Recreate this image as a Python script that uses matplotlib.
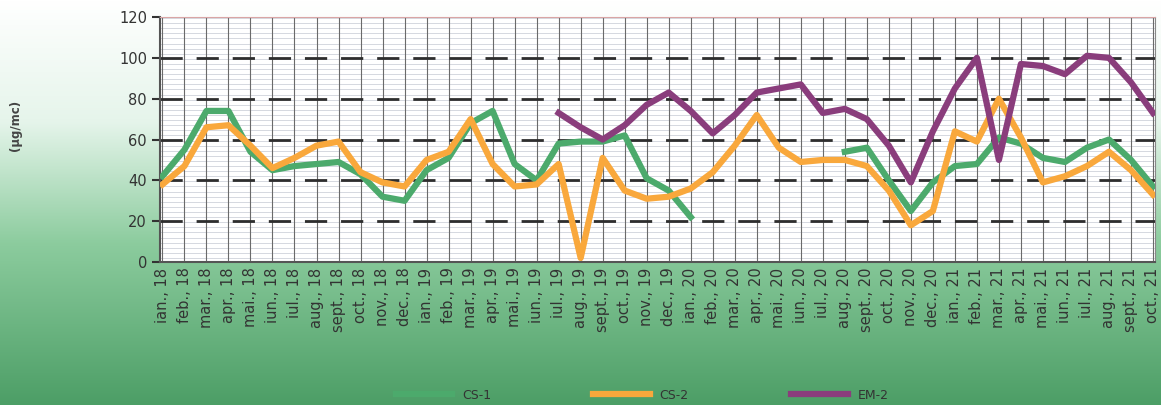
import numpy as np
import matplotlib
matplotlib.use('Agg')
import matplotlib.pyplot as plt
from matplotlib.colors import LinearSegmentedColormap

nan = np.nan

months = ['ian.', 'feb.', 'mar.', 'apr.', 'mai.', 'iun.', 'iul.', 'aug.', 'sept.', 'oct.', 'nov.', 'dec.']
years = ['18', '19', '20', '21']
labels = [m + ', ' + y for y in years for m in months][:46]

cs1 = [42, 55, 74, 74, 54, 45, 47, 48, 49, 43, 32, 30,
       45, 51, 68, 74, 48, 40, 58, 59, 59, 62, 41, 35,
       22, nan, nan, nan, nan, nan, nan, 54, 56, 40, 25, 39,
       47, 48, 61, 58, 51, 49, 56, 60, 50, 37]

cs2 = [38, 47, 66, 67, 57, 46, 51, 57, 59, 44, 39, 37,
       50, 54, 70, 48, 37, 38, 48, 2, 51, 35, 31, 32,
       36, 44, 57, 72, 56, 49, 50, 50, 47, 35, 18, 25,
       64, 59, 80, 61, 39, 42, 47, 54, 45, 33]

em2 = [nan] * 18 + [73, 66, 60, 67, 77, 83,
       74, 63, 72, 83, 85, 87, 73, 75, 70, 57, 39, 64,
       85, 100, 50, 97, 96, 92, 101, 100, 88, 73]

x = np.arange(len(labels))

fig = plt.figure(figsize=(11.61, 4.05), dpi=100)

# background gradient (white at top -> green at bottom)
bg = fig.add_axes([0, 0, 1, 1], zorder=-10)
cmap = LinearSegmentedColormap.from_list('bg', [
    (0.0, (1, 1, 1)),
    (0.3, (0.90, 0.96, 0.92)),
    (0.6, (0.55, 0.80, 0.62)),
    (1.0, (0.30, 0.62, 0.40))])
grad = np.linspace(0, 1, 256).reshape(-1, 1)
bg.imshow(grad, aspect='auto', cmap=cmap, extent=[0, 1, 1, 0])
bg.set_axis_off()

ax = fig.add_axes([0.138, 0.353, 0.857, 0.605])
ax.set_facecolor('white')

# faint minor horizontal lines
for yy in np.arange(2, 120, 2.5):
    ax.axhline(yy, color='#cfd2db', lw=0.6, zorder=0)
for xx in x:
    ax.axvline(xx, color='#6a6a6a', lw=0.8, zorder=1)
for yy in [20, 40, 60, 80, 100]:
    ax.axhline(yy, color='#2e2e2e', lw=2, dashes=(8, 5), zorder=1)

ax.plot(x, cs1, color='#4caa6c', lw=4.5, label='CS-1', zorder=3)
ax.plot(x, cs2, color='#f9a83c', lw=4.5, label='CS-2', zorder=4)
ax.plot(x, em2, color='#8a3d7c', lw=4.5, label='EM-2', zorder=5)

ax.set_xlim(-0.1, len(labels) - 0.9)
ax.set_ylim(0, 120)
ax.set_yticks(range(0, 121, 20))
ax.set_xticks(x)
ax.set_xticklabels(labels, rotation=90, fontsize=10.5, color='#333333')
ax.tick_params(axis='y', labelsize=10.5, colors='#333333', length=6, width=1.5)
ax.tick_params(axis='x', length=0, pad=4)
for s in ['left', 'bottom']:
    ax.spines[s].set_color('#555555')
    ax.spines[s].set_linewidth(1.5)
ax.spines['top'].set_color('#d9a5a5')
ax.spines['right'].set_color('#888888')

fig.text(0.013, 0.69, '(µg/mc)', rotation=90, fontsize=8.5, fontweight='bold',
         color='#444444', ha='center', va='center')

fig.legend(loc='lower center', bbox_to_anchor=(0.553, -0.02), ncol=3, frameon=False,
           fontsize=9, handlelength=4.5, columnspacing=8.2, labelcolor='#333333')

fig.savefig('out.png', dpi=100)
